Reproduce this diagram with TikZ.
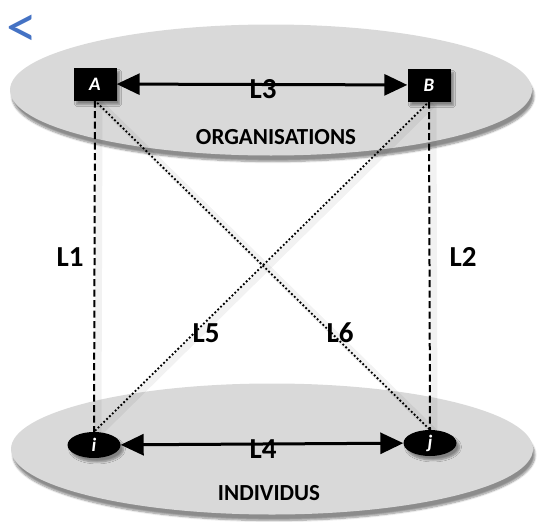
\documentclass[tikz,border=0pt]{standalone}
\usepackage{fontspec}
\setmainfont{Carlito}
\usetikzlibrary{arrows.meta,shapes.geometric,shadows.blur}
\definecolor{retour}{RGB}{68,114,196}
\begin{document}
\begin{tikzpicture}[x=1pt,y=-1pt,
		groupe/.style={ellipse,fill=black!15,minimum width=522pt,minimum height=131pt,inner sep=0pt,
			blur shadow={shadow xshift=2pt,shadow yshift=-6pt,shadow blur steps=8,shadow opacity=45}},
		orga/.style={fill=black,minimum width=43pt,minimum height=33pt,inner sep=0pt,text=white,
			font=\bfseries\itshape\fontsize{19}{19}\selectfont,
			blur shadow={shadow xshift=3pt,shadow yshift=-4pt,shadow blur steps=6,shadow opacity=40}},
		indiv/.style={ellipse,fill=black,minimum width=53pt,minimum height=26pt,inner sep=0pt,text=white,
			font=\bfseries\itshape\fontsize{19}{19}\selectfont,
			blur shadow={shadow xshift=3pt,shadow yshift=-4pt,shadow blur steps=6,shadow opacity=40}},
		lien/.style={{Triangle[length=23pt,width=21pt]}-{Triangle[length=23pt,width=21pt]},line width=3pt},
		halo/.style={preaction={draw=black,draw opacity=0.05,solid,line width=7pt,transform canvas={xshift=4pt,yshift=-2pt}}},
		tiret/.style={halo,line width=2pt,dash pattern=on 7pt off 3.5pt},
		points/.style={halo,line width=2.6pt,dash pattern=on 0pt off 4pt,line cap=round},
		lbl/.style={font=\bfseries\fontsize{29}{29}\selectfont},
		grptxt/.style={font=\bfseries\fontsize{23}{23}\selectfont}]
		\useasboundingbox (0,0) rectangle (541,522);

		\node[groupe] (org) at (271,90) {};
		\node[groupe] (ind) at (272,449) {};

		\node[text=retour,font=\fontsize{62}{62}\selectfont] (retour) at (22,31) {<};

		\node[orga] (A) at (95,84) {A};
		\node[orga] (B) at (429,85) {B};
		\node[indiv] (i) at (94,445) {i};
		\node[indiv] (j) at (430,443) {j};

		\draw[tiret] (A.south) -- (i.north);
		\draw[tiret] (B.south) -- (j.north);
		\draw[points] (A.south) -- (j.north);
		\draw[points] (B.south) -- (i.north);

		\draw[lien] (A) -- (B);
		\draw[lien] (i) -- (j);

		\node[grptxt] (torg) at (276,137) {ORGANISATIONS};
		\node[grptxt] (tind) at (269,493) {INDIVIDUS};

		\node[lbl] (l3) at (263,89) {L3};
		\node[lbl] (l4) at (263,449) {L4};
		\node[lbl] (l1) at (70,257) {L1};
		\node[lbl] (l2) at (463,257) {L2};
		\node[lbl] (l5) at (206,333) {L5};
		\node[lbl] (l6) at (340,333) {L6};
	\end{tikzpicture}
\end{document}
